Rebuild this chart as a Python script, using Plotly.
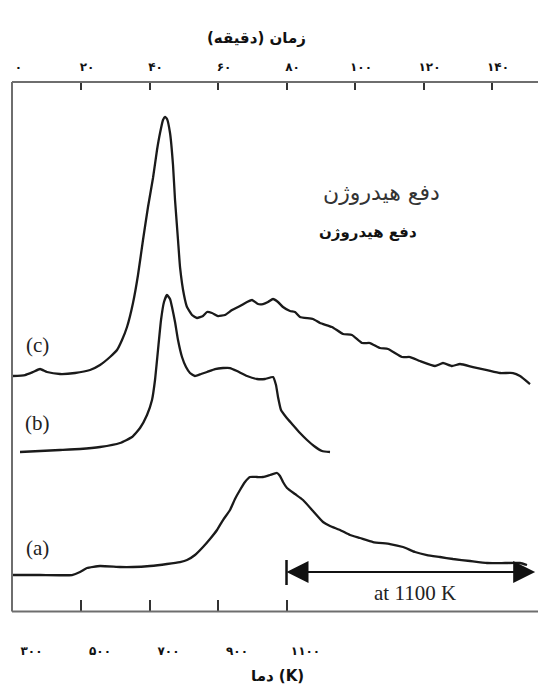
import plotly.graph_objects as go

# ---- data (time in minutes, signal in arbitrary units) ----
c_time = [0, 3.65, 5.99, 8.03, 10.07, 13.87, 18.25, 22.63, 25.55, 28.47, 30.51, 31.97, 33.43, 35.18,
          36.64, 38.10, 39.56, 41.02, 42.19, 43.07, 43.94, 44.53, 45.11, 45.99, 46.86, 47.45, 48.32,
          48.91, 50.07, 50.95, 52.41, 53.87, 55.62, 56.79, 58.25, 60.0, 62.04, 64.09, 66.42, 68.47,
          69.93, 71.68, 73.14, 74.60, 76.06, 77.52, 78.98, 81.02, 82.48, 83.94, 87.74, 89.78, 93.28,
          96.50, 99.12, 102.04, 104.38, 107.30, 109.64, 113.72, 116.06, 118.98, 123.36, 125.69,
          128.32, 130.66, 134.45, 138.54, 142.34, 146.13, 148.18, 151.09]
c_signal = [235.5, 236.5, 239.5, 242.5, 239.5, 237.5, 238.5, 241.5, 246.5, 254.5, 261.5, 271.5, 284.5,
            308.5, 336.5, 371.5, 404.5, 433.5, 461.5, 478.5, 491.5, 494.5, 492.5, 478.5, 446.5, 411.5,
            371.5, 344.5, 316.5, 304.5, 296.5, 293.5, 295.5, 299.5, 298.5, 295.5, 296.5, 301.5, 305.5,
            309.5, 311.5, 307.5, 307.5, 309.5, 312.5, 309.5, 304.5, 300.5, 299.5, 294.5, 292.5, 288.5,
            284.5, 277.5, 276.5, 268.5, 268.5, 263.5, 262.5, 254.5, 254.5, 250.5, 245.5, 248.5, 245.5,
            247.5, 244.5, 241.5, 238.5, 238.5, 235.5, 227.5]

b_time = [2.19, 8.03, 13.87, 19.71, 25.55, 31.39, 34.89, 37.23, 39.27, 40.73, 41.61, 42.48, 43.36,
          44.23, 45.11, 45.99, 46.57, 47.45, 48.32, 49.49, 50.66, 51.82, 53.28, 55.04, 56.79, 59.12,
          61.46, 63.50, 65.55, 68.47, 71.39, 73.72, 76.06, 76.93, 77.52, 78.39, 79.85, 81.61, 83.94,
          85.99, 88.03, 90.36, 92.70]
b_signal = [159.5, 160.5, 161.5, 162.5, 164.5, 168.5, 174.5, 183.5, 196.5, 211.5, 231.5, 261.5, 291.5,
            309.5, 316.5, 312.5, 304.5, 289.5, 271.5, 254.5, 244.5, 238.5, 235.5, 237.5, 239.5, 242.5,
            243.5, 243.5, 240.5, 235.5, 232.5, 232.5, 234.5, 226.5, 214.5, 201.5, 194.5, 187.5, 178.5,
            171.5, 165.5, 160.5, 159.5]

a_time = [0.15, 8.03, 17.37, 19.71, 21.75, 25.55, 31.39, 35.18, 40.15, 45.11, 48.91, 50.95, 53.28,
          55.62, 57.66, 59.71, 61.46, 63.50, 64.96, 66.42, 67.88, 69.34, 71.39, 73.14, 75.18, 77.23,
          78.10, 78.98, 80.15, 82.48, 84.82, 87.74, 90.66, 92.70, 95.62, 98.54, 101.46, 105.26,
          110.22, 114.01, 117.52, 121.02, 124.82, 128.61, 133.58, 138.54, 143.80, 148.18, 150.22]
a_signal = [36.5, 36.5, 36.5, 39.5, 43.5, 45.5, 44.5, 44.5, 45.5, 47.5, 49.5, 51.5, 56.5, 64.5, 72.5,
            81.5, 91.5, 101.5, 112.5, 121.5, 129.5, 134.5, 134.5, 134.5, 136.5, 138.5, 135.5, 129.5,
            123.5, 117.5, 111.5, 100.5, 89.5, 85.5, 81.5, 76.5, 73.5, 69.5, 67.5, 64.5, 59.5, 56.5,
            54.5, 52.5, 50.5, 48.5, 48.5, 48.5, 46.5]

time_ticks = [0, 20, 40, 60, 80, 100, 120, 140]
time_labels = ['۰', '۲۰', '۴۰', '۶۰', '۸۰', '۱۰۰', '۱۲۰', '۱۴۰']
temp_ticks = [0, 20, 40, 60, 80]
temp_labels = ['۳۰۰', '۵۰۰', '۷۰۰', '۹۰۰', '۱۱۰۰']

hold_start = 80      # minutes, 1100 K reached
hold_end = 152.6
arrow_level = 39.5

title_top = 'زمان (دقیقه)'
title_bottom = 'دما (K)'
label_h = 'دفع هیدروژن'

LINE = '#1a1a1a'
FRAME = '#6e6e6e'
fig = go.Figure()
for t, s in [(c_time, c_signal), (b_time, b_signal), (a_time, a_signal)]:
    fig.add_trace(go.Scatter(x=t, y=s, mode='lines', line=dict(color=LINE, width=2.3, shape='spline', smoothing=0.4),
                             showlegend=False, hoverinfo='skip'))
# invisible trace to activate the top time axis
fig.add_trace(go.Scatter(x=[0], y=[0], xaxis='x2', mode='markers', marker=dict(opacity=0), showlegend=False,
                         hoverinfo='skip'))

bold = dict(family='DejaVu Sans', size=12, color='#111', weight='bold')
fig.update_layout(
    width=538, height=694, margin=dict(l=12, r=0, t=82, b=50),
    plot_bgcolor='white', paper_bgcolor='white',
    xaxis=dict(range=[-0.15, 153.43], tickvals=temp_ticks, ticktext=temp_labels,
               ticks='inside', ticklen=12, tickwidth=2, tickcolor='#333',
               showline=False, showgrid=False, zeroline=False,
               ticklabelshift=19, ticklabelstandoff=30, tickfont=bold, anchor='y'),
    xaxis2=dict(overlaying='x', side='top', matches='x', anchor='y', tickvals=time_ticks, ticktext=time_labels,
                ticks='inside', ticklen=8, tickwidth=2, tickcolor='#333',
                showline=False, showgrid=False, zeroline=False,
                ticklabelshift=6, ticklabelstandoff=8, tickfont=bold),
    yaxis=dict(domain=[0.0578, 1], range=[0, 529.5], showline=False,
               showticklabels=False, ticks='', showgrid=False, zeroline=False),
)

# frame: left, top, bottom (right side lies outside the picture)
for x0, y0, x1, y1 in [(0, 0, 0, 1), (0, 1, 1, 1), (0, 0, 1, 0)]:
    fig.add_shape(type='line', xref='x domain', yref='y domain', x0=x0, y0=y0, x1=x1, y1=y1,
                  line=dict(color=FRAME, width=2))

serif = dict(family='Liberation Serif', size=21, color='#222')
for txt, tx, ty in [('(c)', 7.15, 266.5), ('(b)', 7.15, 188.5), ('(a)', 7.15, 63.5)]:
    fig.add_annotation(x=tx, y=ty, xref='x', yref='y', text=txt, showarrow=False, font=serif)

fig.add_annotation(x=117.5, y=18.5, xref='x', yref='y', text='at 1100 K', showarrow=False, font=serif)
fig.add_annotation(x=107.6, y=419.5, xref='x', yref='y', text=label_h, showarrow=False,
                   font=dict(family='DejaVu Sans', size=22, color='#333'))
fig.add_annotation(x=103.8, y=379.5, xref='x', yref='y', text=label_h, showarrow=False,
                   font=dict(family='DejaVu Sans', size=15, color='#111', weight='bold'))

# double-headed "hold" arrow: continuous shaft plus two heads
fig.add_shape(type='line', x0=hold_start + 3, x1=hold_end - 3, y0=arrow_level, y1=arrow_level,
              xref='x', yref='y', line=dict(color='#111', width=2))
mid = (hold_start + hold_end) / 2
for head in [hold_start, hold_end]:
    fig.add_annotation(x=head, y=arrow_level, ax=mid, ay=arrow_level, xref='x', yref='y', axref='x', ayref='y',
                       text='', showarrow=True, arrowhead=2, arrowsize=2.2, arrowwidth=2, arrowcolor='#111')
fig.add_shape(type='line', x0=hold_start, x1=hold_start, y0=26.5, y1=51.5, xref='x', yref='y',
              line=dict(color='#111', width=2.5))

fig.add_annotation(x=0.464, y=1.098, xref='paper', yref='paper', text=title_top, showarrow=False,
                   font=dict(family='DejaVu Sans', size=15, color='#111', weight='bold'))
fig.add_annotation(x=0.504, y=-0.077, xref='paper', yref='paper', text=title_bottom, showarrow=False,
                   font=dict(family='DejaVu Sans', size=15, color='#111', weight='bold'))

fig.write_html('out.html')
